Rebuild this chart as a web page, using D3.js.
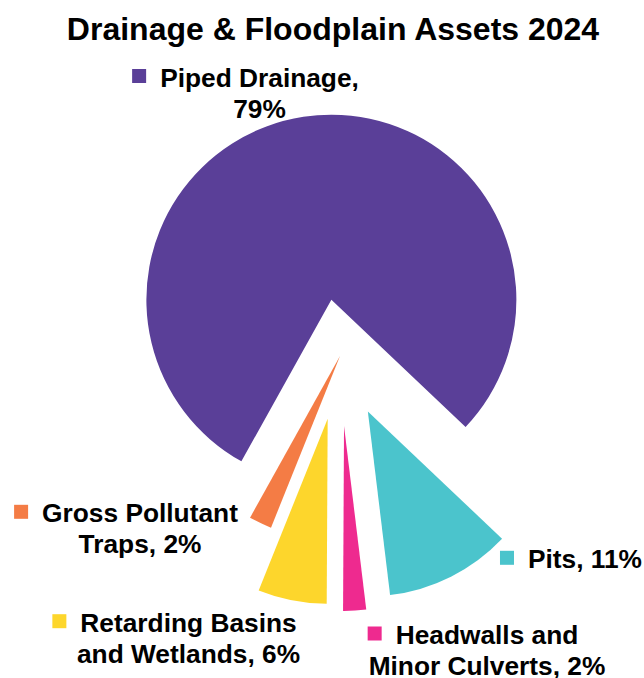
<!DOCTYPE html>
<html>
<head>
<meta charset="utf-8">
<script src="https://cdn.jsdelivr.net/npm/d3@7"></script>
<style>
  html, body { margin: 0; padding: 0; background: #fff; }
  svg { display: block; }
  text { font-family: "Liberation Sans", Arial, sans-serif; font-weight: bold; fill: #000; }
</style>
</head>
<body>
<svg id="chart" width="644" height="678"></svg>
<script>
// Asset categories and their share of the total (%)
const categories = ["Piped Drainage", "Pits", "Headwalls and Minor Culverts", "Retarding Basins and Wetlands", "Gross Pollutant Traps"];
const shares = [79, 11, 2, 6, 2];
const colors = ["#5a3f98", "#4bc4cc", "#ee2a8f", "#fdd62c", "#f47c45"];
// Label lines (first line carries the colour key)
const labelLines = [
  ["Piped Drainage,", "79%"],
  ["Pits, 11%"],
  ["Headwalls and", "Minor Culverts, 2%"],
  ["Retarding Basins", "and Wetlands, 6%"],
  ["Gross Pollutant", "Traps, 2%"]
];

// Layout
const W = 644, H = 678;
const cx = 340, cy = 356, radius = 185;
const explode = [57, 62, 70, 64, 0];            // slice pull-out distance (px)
const startDeg = 209.1;
// Label anchor (centre x of text block, baseline of first line)
const labelPos = [[259.5, 86.5], [585, 568.3], [487, 644], [188.5, 631.7], [140, 522.3]];
const fontSize = 26.3, lineGap = 31;

const svg = d3.select("#chart");

svg.append("text")
  .attr("x", 333).attr("y", 40)
  .attr("text-anchor", "middle")
  .style("font-size", "32px")
  .text("Drainage & Floodplain Assets 2024");

const data = categories.map((c, i) => ({ name: c, value: shares[i], i }));

const pie = d3.pie()
  .sort(null)
  .value(d => d.value)
  .startAngle(startDeg * Math.PI / 180)
  .endAngle(startDeg * Math.PI / 180 + 2 * Math.PI);

const arc = d3.arc().innerRadius(0).outerRadius(radius);

const slices = svg.append("g").attr("transform", `translate(${cx},${cy})`);

slices.selectAll("path")
  .data(pie(data))
  .join("path")
  .attr("fill", d => colors[d.data.i])
  .attr("transform", d => {
    const mid = (d.startAngle + d.endAngle) / 2;
    const k = explode[d.data.i];
    return `translate(${k * Math.sin(mid)},${-k * Math.cos(mid)})`;
  })
  .attr("d", arc);

// Data labels with colour key
const keySize = 14;
labelLines.forEach((lines, i) => {
  const [x, y] = labelPos[i];
  const g = svg.append("g");
  const texts = lines.map((ln, j) =>
    g.append("text")
      .attr("x", x).attr("y", y + j * lineGap)
      .attr("text-anchor", "middle")
      .style("font-size", fontSize + "px")
      .text(ln));
  const w0 = texts[0].node().getComputedTextLength();
  g.append("rect")
    .attr("x", x - w0 / 2 - 14 - keySize)
    .attr("y", y - 17.5)
    .attr("width", keySize).attr("height", keySize)
    .attr("fill", colors[i]);
});
</script>
</body>
</html>
